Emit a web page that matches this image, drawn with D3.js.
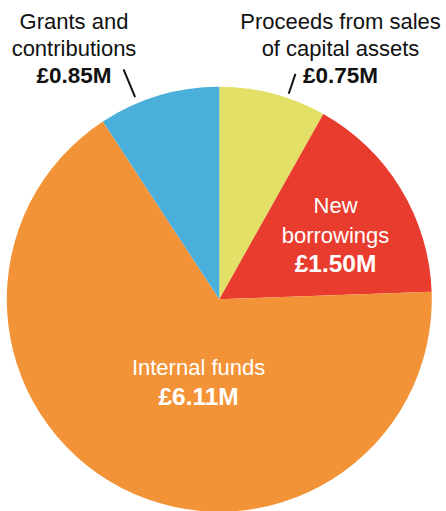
<!DOCTYPE html>
<html>
<head>
<meta charset="utf-8">
<script src="https://cdn.jsdelivr.net/npm/d3@7"></script>
<style>
  html, body { margin: 0; padding: 0; background: #fff; }
  svg { display: block; }
  text { font-family: "Liberation Sans", Arial, Helvetica, sans-serif; }
</style>
</head>
<body>
<svg id="chart"></svg>
<script>
// data, clockwise from 12 o'clock
const categories = ["Proceeds from sales of capital assets", "New borrowings", "Internal funds", "Grants and contributions"];
const values = [0.75, 1.50, 6.11, 0.85];
const valueLabels = ["£0.75M", "£1.50M", "£6.11M", "£0.85M"];
const colors = ["#e2e066", "#e83c2f", "#f39338", "#4bafdb"];

const width = 446;
const height = 511;
const cx = 219.3;
const cy = 299.3;
const radius = 212.5;

const svg = d3.select("#chart").attr("width", width).attr("height", height);
const g = svg.append("g").attr("transform", `translate(${cx},${cy})`);

const pie = d3.pie().sort(null).value((d) => d.value);
const arc = d3.arc().innerRadius(0).outerRadius(radius);

const slices = pie(categories.map((c, i) => ({ name: c, value: values[i], label: valueLabels[i], color: colors[i] })));

g.selectAll("path")
    .data(slices)
    .enter()
    .append("path")
    .attr("d", arc)
    .attr("fill", (d) => d.data.color);

// label layout: inside labels on a polar point, outside labels with a short leader line
const layout = [
    { lines: ["Proceeds from sales", "of capital assets"], outside: true, tx: 340.5, ty: 29, lineAngle: 4, r0: 217, r1: 238 },
    { lines: ["New", "borrowings"], outside: false, ang: 2.7, r: 132.5, lh: 29.5 },
    { lines: ["Internal funds"], outside: false, ang: -13.4, r: 86, lh: 30 },
    { lines: ["Grants and", "contributions"], outside: true, tx: 74, ty: 29, lineAngle: -6, r0: 219, r1: 249 },
];

const polar = (a, r) => [r * Math.sin(a), -r * Math.cos(a)];
const deg = Math.PI / 180;

slices.forEach((d, i) => {
    const L = layout[i];
    const mid = (d.startAngle + d.endAngle) / 2;
    const all = L.lines.concat([d.data.label]);
    if (L.outside) {
        const a = mid + L.lineAngle * deg;
        const p0 = polar(a, L.r0);
        const p1 = polar(a, L.r1);
        g.append("line")
            .attr("x1", p0[0]).attr("y1", p0[1])
            .attr("x2", p1[0]).attr("y2", p1[1])
            .attr("stroke", "#111")
            .attr("stroke-width", 2);
        all.forEach((t, k) => {
            const last = k === all.length - 1;
            svg.append("text")
                .attr("x", L.tx)
                .attr("y", L.ty + k * 26.8)
                .attr("text-anchor", "middle")
                .attr("font-size", last ? 22.5 : 22)
                .attr("font-weight", last ? "bold" : "normal")
                .attr("fill", "#111")
                .text(t);
        });
    } else {
        const p = polar(mid + L.ang * deg, L.r);
        const top = p[1] - ((all.length - 1) * L.lh) / 2 + 7;
        all.forEach((t, k) => {
            const last = k === all.length - 1;
            g.append("text")
                .attr("x", p[0])
                .attr("y", top + k * L.lh)
                .attr("text-anchor", "middle")
                .attr("font-size", last ? 24.5 : 22)
                .attr("font-weight", last ? "bold" : "normal")
                .attr("fill", "#fff")
                .text(t);
        });
    }
});
</script>
</body>
</html>
